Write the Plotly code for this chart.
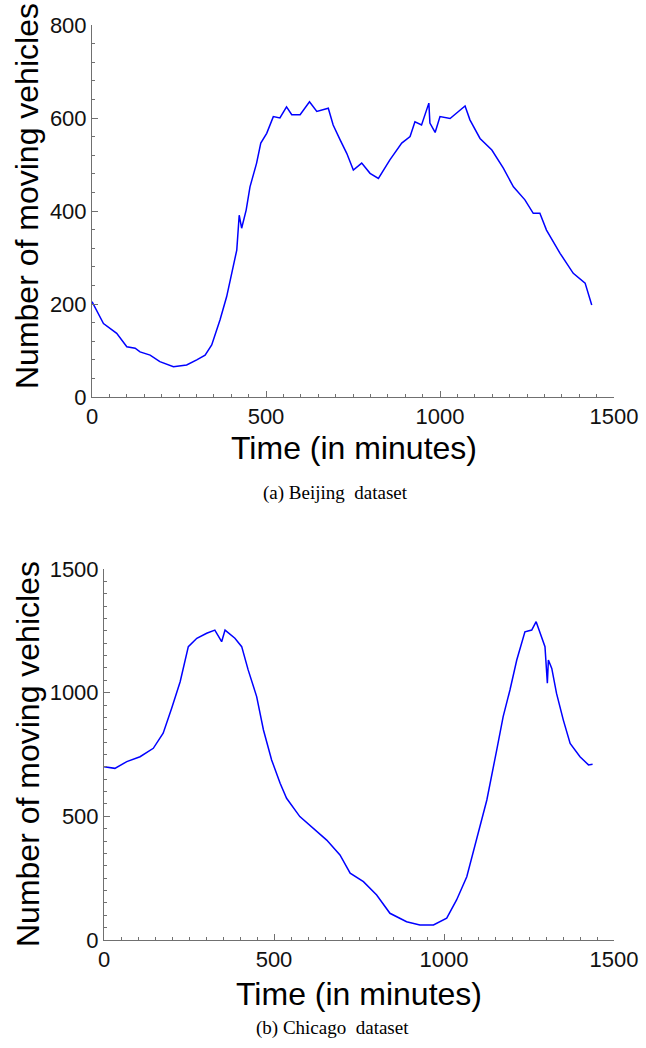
import plotly.graph_objects as go

# ---------------- data ----------------
t_beijing = [0, 33, 71, 100, 124, 138, 167, 195, 234, 272, 301, 325, 344, 368, 387,
             401, 416, 423, 430, 443, 454, 473, 485, 502, 521, 540, 559, 574, 598,
             625, 646, 679, 693, 713, 732, 751, 775, 799, 823, 856, 890, 914, 928,
             947, 968, 971, 986, 1000, 1029, 1072, 1086, 1115, 1149, 1182, 1211,
             1244, 1268, 1287, 1306, 1345, 1383, 1417, 1436]
v_beijing = [205, 158, 137, 108, 105, 97, 90, 76, 65, 69, 80, 90, 112, 166, 216,
             262, 316, 391, 363, 402, 452, 503, 546, 567, 603, 600, 624, 607, 607,
             635, 614, 621, 585, 553, 524, 488, 503, 481, 470, 510, 546, 560, 592,
             585, 632, 589, 569, 603, 599, 626, 596, 556, 531, 492, 452,
             424, 395, 395, 359, 309, 266, 245, 198]

t_chicago = [0, 32, 67, 106, 145, 174, 199, 224, 248, 273, 302, 326, 346, 356, 385,
             405, 424, 449, 469, 493, 518, 537, 576, 616, 655, 694, 724, 763, 802,
             841, 890, 929, 969, 1008, 1037, 1067, 1096, 1126, 1155, 1174, 1194,
             1214, 1238, 1258, 1271, 1287, 1297, 1304, 1307, 1317, 1331, 1351,
             1371, 1400, 1425, 1437]
v_chicago = [701, 694, 721, 741, 775, 836, 937, 1044, 1186, 1220, 1240, 1253, 1206,
             1253, 1220, 1186, 1092, 984, 849, 728, 634, 573, 499, 452, 404, 344,
             270, 236, 182, 108, 74, 61, 61, 88, 162, 256, 404, 566, 768, 903, 1011,
             1132, 1246, 1253, 1287, 1220, 1186, 1038, 1132, 1098, 997, 889, 795,
             741, 708, 711]

x_major_step = 500
y_major_step_beijing = 200
y_major_step_chicago = 500

x_title = "Time (in minutes)"
y_title = "Number of moving vehicles"
captions = ["(a) Beijing&nbsp;&nbsp;dataset", "(b) Chicago&nbsp;&nbsp;dataset"]

# ---------------- figure ----------------
W, H = 646, 1048
BLUE = "#0000ff"
AX = "#707070"
SANS = "Liberation Sans, Arial, Helvetica, sans-serif"
SERIF = "Liberation Serif, Times New Roman, serif"

def px(x):
    return x / W

def py(y):
    return 1 - y / H

fig = go.Figure()
fig.add_trace(go.Scatter(x=t_beijing, y=v_beijing, mode="lines",
                         line=dict(color=BLUE, width=1.5), xaxis="x", yaxis="y",
                         showlegend=False, hoverinfo="skip"))
fig.add_trace(go.Scatter(x=t_chicago, y=v_chicago, mode="lines",
                         line=dict(color=BLUE, width=1.5), xaxis="x2", yaxis="y2",
                         showlegend=False, hoverinfo="skip"))

def axis(domain, anchor, rng, step, mdt):
    return dict(domain=domain, anchor=anchor, range=rng, automargin=False,
                tickmode="linear", tick0=0, dtick=step,
                ticks="inside", ticklen=6, tickcolor=AX, tickwidth=1,
                showline=True, linecolor=AX, linewidth=1, showgrid=False,
                zeroline=False, tickfont=dict(family=SANS, size=22, color="#111"),
                minor=dict(tick0=0, dtick=mdt, ticks="inside", ticklen=3,
                           tickcolor=AX, tickwidth=1, showgrid=False))

fig.update_layout(
    width=W, height=H, margin=dict(l=0, r=0, t=0, b=0, autoexpand=False),
    paper_bgcolor="white", plot_bgcolor="white",
    xaxis=axis([px(92), px(614)], "y", [0, 1500], x_major_step, 50),
    yaxis=axis([py(397), py(25)], "x", [0, 800], y_major_step_beijing, 40),
    xaxis2=axis([px(104), px(614)], "y2", [0, 1500], x_major_step, 50),
    yaxis2=axis([py(940), py(569)], "x2", [0, 1500], y_major_step_chicago, 50),
)

ann = []
# axis titles
ann.append(dict(text=x_title, x=px(354), y=py(448), xref="paper", yref="paper",
                showarrow=False, xanchor="center", yanchor="middle",
                font=dict(family=SANS, size=32, color="#000")))
ann.append(dict(text=x_title, x=px(359), y=py(994), xref="paper", yref="paper",
                showarrow=False, xanchor="center", yanchor="middle",
                font=dict(family=SANS, size=32, color="#000")))
ann.append(dict(text=y_title, x=px(27), y=py(196), xref="paper", yref="paper",
                showarrow=False, xanchor="center", yanchor="middle", textangle=-90,
                font=dict(family=SANS, size=32, color="#000")))
ann.append(dict(text=y_title, x=px(28), y=py(754), xref="paper", yref="paper",
                showarrow=False, xanchor="center", yanchor="middle", textangle=-90,
                font=dict(family=SANS, size=32, color="#000")))
# captions
ann.append(dict(text=captions[0], x=px(335), y=py(493), xref="paper", yref="paper",
                showarrow=False, xanchor="center", yanchor="middle",
                font=dict(family=SERIF, size=19, color="#000")))
ann.append(dict(text=captions[1], x=px(332), y=py(1028), xref="paper", yref="paper",
                showarrow=False, xanchor="center", yanchor="middle",
                font=dict(family=SERIF, size=19, color="#000")))
fig.update_layout(annotations=ann)

fig.write_html(
    "out.html",
    config={"displayModeBar": False},
    post_script="document.body.style.margin='0';document.body.style.overflow='hidden';",
)
